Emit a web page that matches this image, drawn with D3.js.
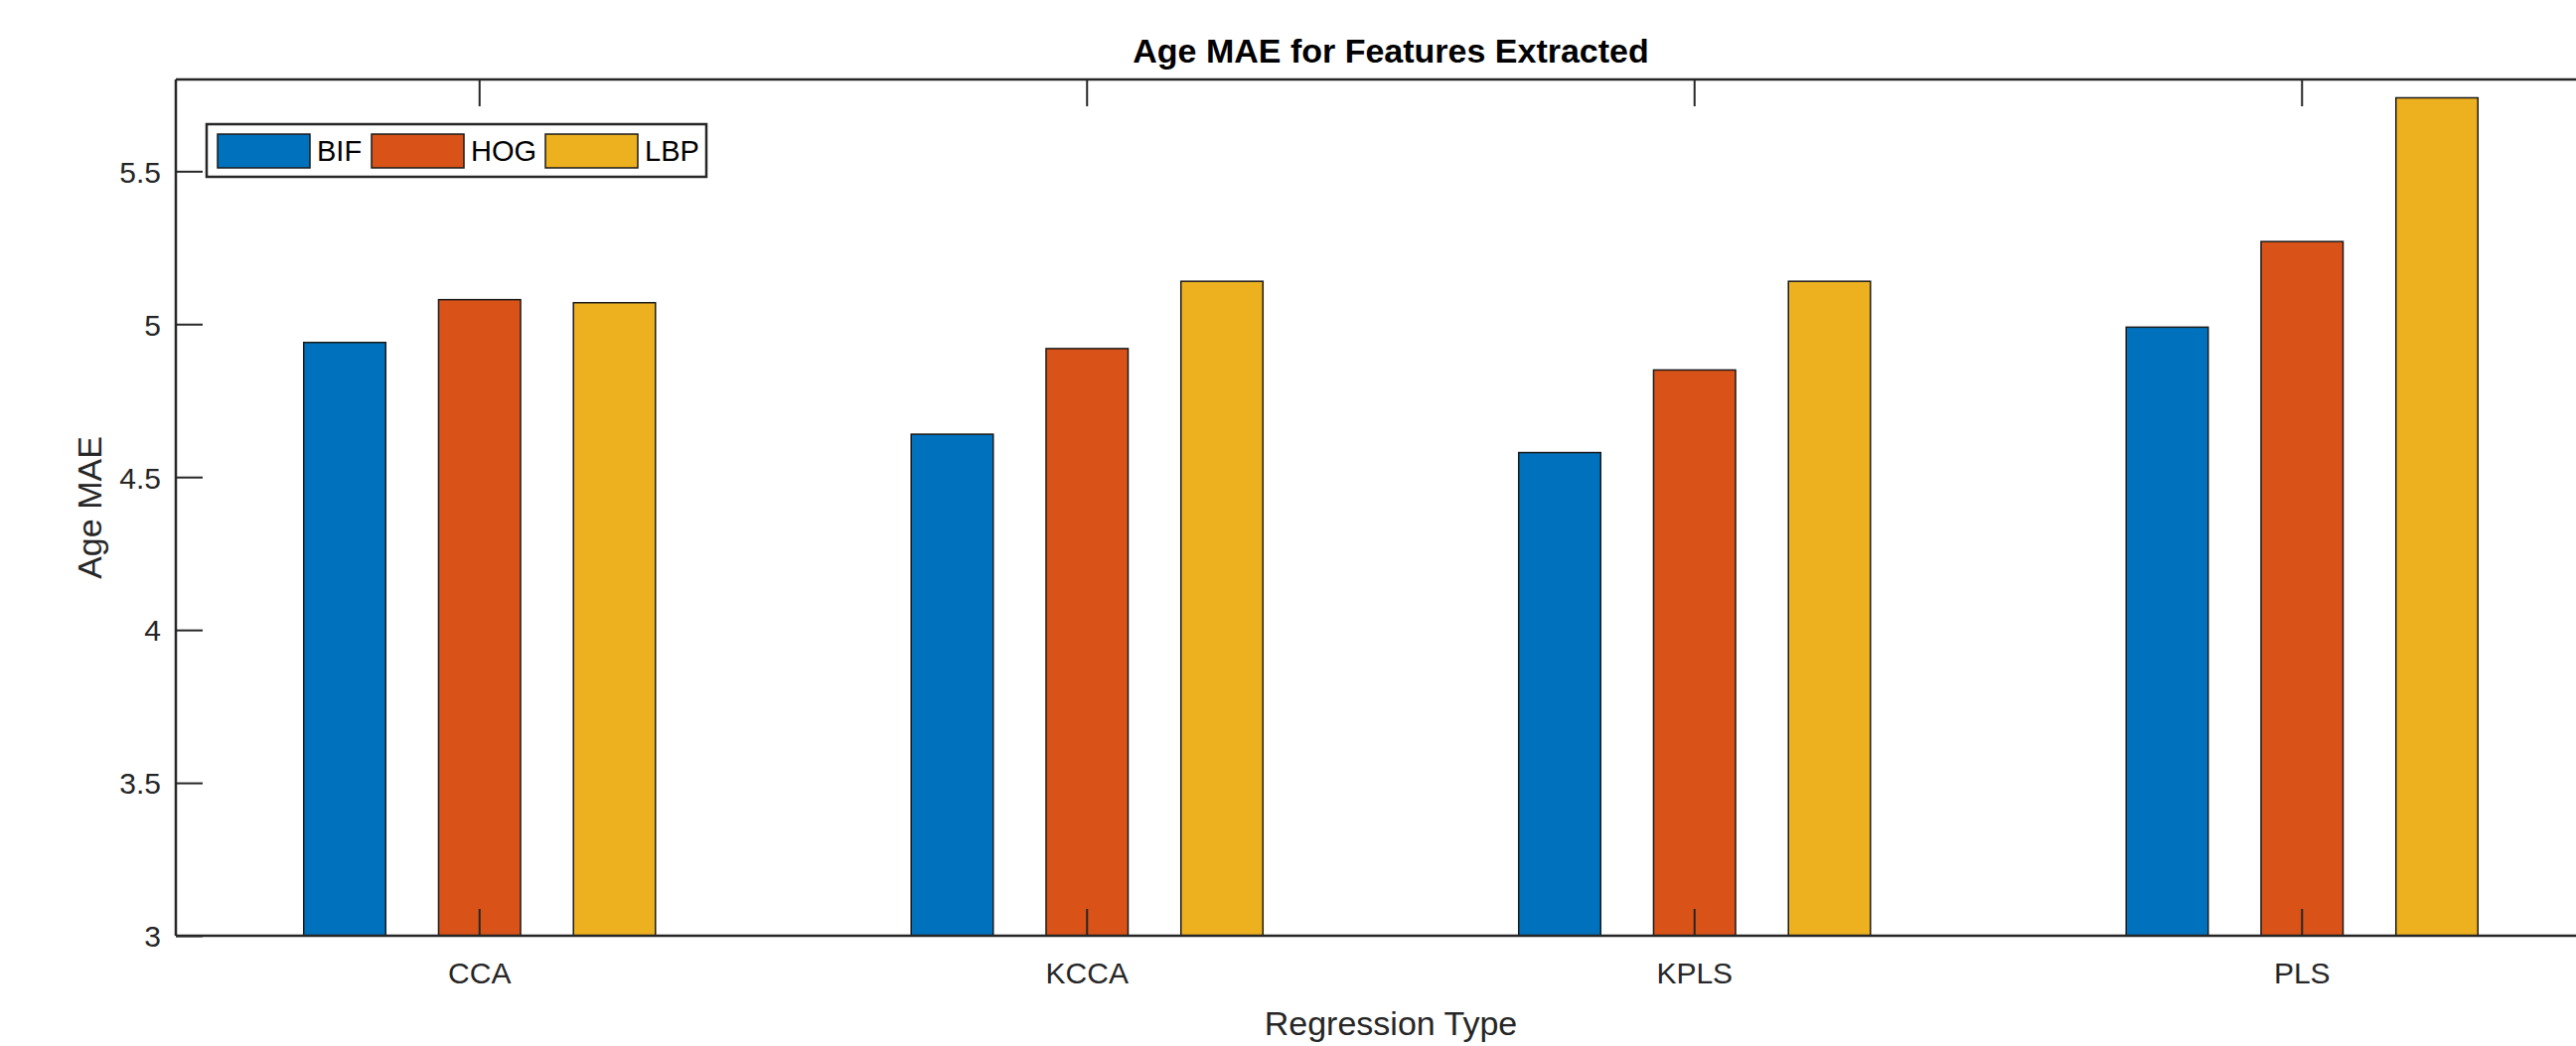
<!DOCTYPE html>
<html>
<head>
<meta charset="utf-8">
<script src="https://cdn.jsdelivr.net/npm/d3@7"></script>
<style>
  html, body { margin: 0; padding: 0; background: #fff; overflow: hidden; }
  svg { display: block; font-family: "Liberation Sans", Arial, Helvetica, sans-serif; }
</style>
</head>
<body>
<svg id="chart"></svg>
<script>
const categories = ["CCA", "KCCA", "KPLS", "PLS"];
const seriesNames = ["BIF", "HOG", "LBP"];
const seriesColors = ["#0072BD", "#D95319", "#EDB120"];
const bif = [4.94, 4.64, 4.58, 4.99];
const hog = [5.08, 4.92, 4.85, 5.27];
const lbp = [5.07, 5.14, 5.14, 5.74];
const yTicks = [3, 3.5, 4, 4.5, 5, 5.5];
const yDomain = [3, 5.8];

const series = [bif, hog, lbp];
const offsets = [-0.222, 0, 0.222];   // in category units
const barW = 0.135;

const W = 2593, H = 1053;
const mLeft = 177, mTop = 80, mBottom = 942, mRight = 2623;
const ink = "#262626";

const svg = d3.select("#chart").attr("width", W).attr("height", H);

const x = d3.scaleBand().domain(categories).range([mLeft, mRight]).padding(0);
const y = d3.scaleLinear().domain(yDomain).range([mBottom, mTop]);
const bw = x.bandwidth();
const cx = c => x(c) + bw / 2;

// bars
const rows = [];
categories.forEach((c, i) => series.forEach((s, k) => rows.push({ c, k, v: s[i] })));
svg.append("g").selectAll("rect").data(rows).enter().append("rect")
  .attr("x", d => cx(d.c) + (offsets[d.k] - barW / 2) * bw)
  .attr("width", barW * bw)
  .attr("y", d => y(d.v))
  .attr("height", d => y(yDomain[0]) - y(d.v))
  .attr("fill", d => seriesColors[d.k])
  .attr("stroke", "#1a1a1a").attr("stroke-width", 1.5);

const tick = 27;
const fontTick = 30;

// y axis
const gy = svg.append("g").attr("transform", `translate(${mLeft},0)`)
  .call(d3.axisLeft(y).tickValues(yTicks).tickFormat(d => d).tickSize(-tick).tickPadding(15));
// bottom axis
const gx = svg.append("g").attr("transform", `translate(0,${mBottom})`)
  .call(d3.axisBottom(x).tickSize(-tick).tickPadding(26));
gx.selectAll(".tick").attr("transform", d => `translate(${cx(d)},0)`);
// top axis (ticks only)
const gt = svg.append("g").attr("transform", `translate(0,${mTop})`)
  .call(d3.axisTop(x).tickSize(-tick).tickFormat(""));
gt.selectAll(".tick").attr("transform", d => `translate(${cx(d)},0)`);

[gy, gx, gt].forEach(g => {
  g.select(".domain").attr("stroke", ink).attr("stroke-width", 2.5);
  g.selectAll(".tick line").attr("stroke", ink).attr("stroke-width", 2);
  g.selectAll(".tick text").attr("fill", ink).style("font-size", fontTick + "px");
});
gt.select(".domain").attr("d", `M${mLeft},0H${mRight}`);
gx.select(".domain").attr("d", `M${mLeft},0H${mRight}`);
gy.select(".domain").attr("d", `M0,${mBottom}V${mTop}`);
gy.selectAll(".tick text").attr("dy", "0.36em");
gx.selectAll(".tick text").attr("dy", "0.72em");

// title & axis labels
svg.append("text").attr("x", (mLeft + mRight) / 2).attr("y", 63)
  .attr("text-anchor", "middle").attr("font-weight", "bold")
  .style("font-size", "34px").attr("fill", "#000")
  .text("Age MAE for Features Extracted");
svg.append("text").attr("x", (mLeft + mRight) / 2).attr("y", 1042)
  .attr("text-anchor", "middle").style("font-size", "34px").attr("fill", ink)
  .text("Regression Type");
svg.append("text").attr("transform", `translate(102,${(mTop + mBottom) / 2}) rotate(-90)`)
  .attr("text-anchor", "middle").style("font-size", "34px").attr("fill", ink)
  .text("Age MAE");

// legend
const lg = svg.append("g").attr("transform", "translate(208,125)");
lg.append("rect").attr("width", 503).attr("height", 53)
  .attr("fill", "#fff").attr("stroke", ink).attr("stroke-width", 2.5);
const itemX = [11, 166, 341];
seriesNames.forEach((n, k) => {
  const it = lg.append("g").attr("transform", `translate(${itemX[k]},10)`);
  it.append("rect").attr("width", 93).attr("height", 34)
    .attr("fill", seriesColors[k]).attr("stroke", "#1a1a1a").attr("stroke-width", 1.5);
  it.append("text").attr("x", 100).attr("y", 17).attr("dy", "0.36em")
    .style("font-size", "29px").attr("fill", "#000").text(n);
});
</script>
</body>
</html>
